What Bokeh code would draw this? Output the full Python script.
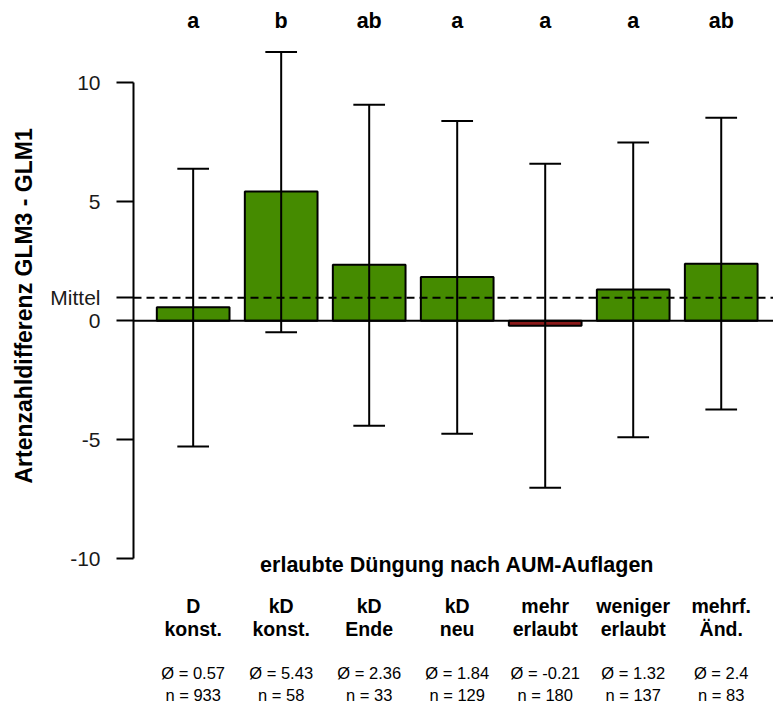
from bokeh.plotting import figure
from bokeh.models import ColumnDataSource, Range1d, Span, FixedTicker, Title
from bokeh.core.properties import value
from bokeh.embed import file_html
from bokeh.resources import INLINE

# ---- data ----
letters = ["a", "b", "ab", "a", "a", "a", "ab"]
cat_line1 = ["D", "kD", "kD", "kD", "mehr", "weniger", "mehrf."]
cat_line2 = ["konst.", "konst.", "Ende", "neu", "erlaubt", "erlaubt", "Änd."]
means = [0.57, 5.43, 2.36, 1.84, -0.21, 1.32, 2.4]
n_obs = [933, 58, 33, 129, 180, 137, 83]
err_low = [-5.28, -0.48, -4.41, -4.75, -7.02, -4.89, -3.73]
err_high = [6.39, 11.29, 9.08, 8.40, 6.60, 7.49, 8.53]
overall_mean = 0.97
y_ticks = [-10, -5, 0, 5, 10]

FONT = value("Liberation Sans")
GREEN = "#458B00"
RED = "#8B1A1A"

idx = list(range(len(means)))
colors = [GREEN if m >= 0 else RED for m in means]

src = ColumnDataSource(dict(
    x=idx, top=means, color=colors, lo=err_low, hi=err_high,
    cap_l=[i - 0.18 for i in idx], cap_r=[i + 0.18 for i in idx],
    letters=letters, c1=cat_line1, c2=cat_line2,
    stat1=[f"Ø = {m}" for m in means],
    stat2=[f"n = {n}" for n in n_obs],
))

p = figure(width=773, height=704, output_backend="svg", toolbar_location=None,
           x_range=Range1d(-0.678, 6.594), y_range=Range1d(-16.122, 13.458),
           x_axis_location=None, min_border_left=133, min_border_right=0,
           min_border_top=0, min_border_bottom=0)
p.outline_line_color = None
p.grid.visible = False
p.background_fill_color = "white"
p.border_fill_color = "white"

# bars
p.vbar(x="x", top="top", bottom=0, width=0.826, source=src,
       fill_color="color", line_color="black", line_width=2)

# error bars
p.segment(x0="x", y0="lo", x1="x", y1="hi", source=src, line_color="black", line_width=2)
p.segment(x0="cap_l", y0="lo", x1="cap_r", y1="lo", source=src, line_color="black", line_width=2)
p.segment(x0="cap_l", y0="hi", x1="cap_r", y1="hi", source=src, line_color="black", line_width=2)

# reference lines
p.add_layout(Span(location=0, dimension="width", line_color="black", line_width=2))
p.add_layout(Span(location=overall_mean, dimension="width", line_color="black",
                  line_width=2, line_dash="8 5"))

# y axis
ax = p.yaxis[0]
ax.bounds = (min(y_ticks), max(y_ticks))
ax.ticker = FixedTicker(ticks=y_ticks + [overall_mean])
overrides = {t: str(t) for t in y_ticks}
overrides[overall_mean] = "Mittel"
ax.major_label_overrides = overrides
ax.minor_tick_line_color = None
ax.major_tick_in = 0
ax.major_tick_out = 17
ax.major_tick_line_width = 2
ax.axis_line_width = 2
ax.major_label_standoff = 16
ax.major_label_text_font = "Liberation Sans"
ax.major_label_text_font_size = "21px"
ax.major_label_text_color = "#1a1a1a"

# y axis title, placed as a side title so it can sit on the -10..10 span
p.add_layout(Title(text="Artenzahldifferenz GLM3 - GLM1", align="left", offset=221,
                   vertical_align="top", standoff=18,
                   text_font="Liberation Sans", text_font_style="bold",
                   text_font_size="23px", text_color="black"), "left")

# significance letters
p.text(x="x", y=12.60, text="letters", source=src, text_font=FONT,
       text_font_size="21.5px", text_font_style="bold", text_align="center",
       text_baseline="alphabetic", text_color="black")

# x-axis title
p.text(x=[3], y=[-10.24], text=["erlaubte Düngung nach AUM-Auflagen"], text_font=FONT,
       text_font_size="21.5px", text_font_style="bold", text_align="center",
       text_baseline="alphabetic", text_color="black")

# category labels
for col, yv in (("c1", -11.98), ("c2", -12.97)):
    p.text(x="x", y=yv, text=col, source=src, text_font=FONT,
           text_font_size="19.5px", text_font_style="bold", text_align="center",
           text_baseline="alphabetic", text_color="black")

# stats
for col, yv in (("stat1", -14.79), ("stat2", -15.71)):
    p.text(x="x", y=yv, text=col, source=src, text_font=FONT,
           text_font_size="16.5px", text_align="center",
           text_baseline="alphabetic", text_color="black")

open("out.html", "w").write(file_html(p, INLINE))
